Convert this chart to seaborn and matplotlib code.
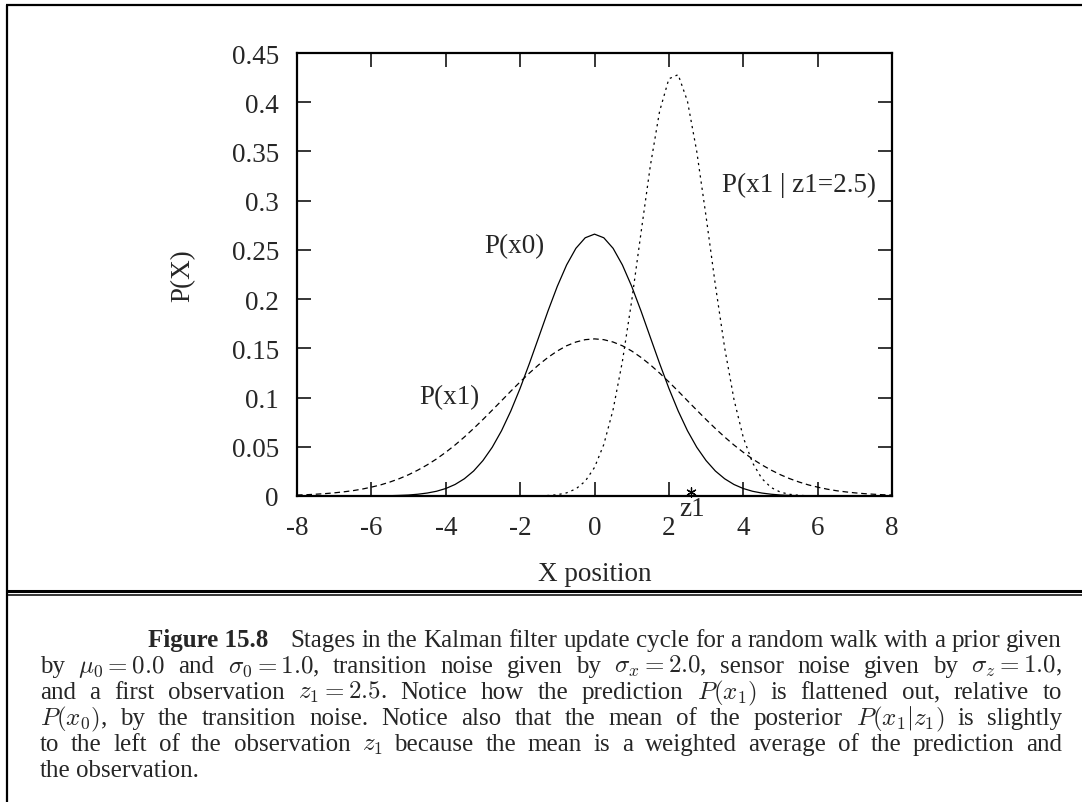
import re
import matplotlib
matplotlib.use("Agg")
import matplotlib.pyplot as plt
import matplotlib.transforms as mtransforms
from matplotlib.lines import Line2D
import pandas as pd
import seaborn as sns

x_pos = [-8.0, -7.75, -7.5, -7.25, -7.0, -6.75, -6.5, -6.25, -6.0, -5.75, -5.5, -5.25, -5.0,
         -4.75, -4.5, -4.25, -4.0, -3.75, -3.5, -3.25, -3.0, -2.75, -2.5, -2.25, -2.0,
         -1.75, -1.5, -1.25, -1.0, -0.75, -0.5, -0.25, 0.0, 0.25, 0.5, 0.75, 1.0,
         1.25, 1.5, 1.75, 2.0, 2.25, 2.5, 2.75, 3.0, 3.25, 3.5, 3.75, 4.0,
         4.25, 4.5, 4.75, 5.0, 5.25, 5.5, 5.75, 6.0, 6.25, 6.5, 6.75, 7.0,
         7.25, 7.5, 7.75, 8.0]

p_x0 = [0, 0, 0, 0, 0, 0, 0, 0, 0.0001, 0.0002, 0.0003, 0.0006, 0.0010,
        0.0018, 0.0030, 0.0048, 0.0076, 0.0117, 0.0175, 0.0254, 0.0360, 0.0495, 0.0663, 0.0864, 0.1094,
        0.1347, 0.1613, 0.1880, 0.2130, 0.2347, 0.2516, 0.2623, 0.2660, 0.2623, 0.2516, 0.2347, 0.2130,
        0.1880, 0.1613, 0.1347, 0.1094, 0.0864, 0.0663, 0.0495, 0.0360, 0.0254, 0.0175, 0.0117, 0.0076,
        0.0048, 0.0030, 0.0018, 0.0010, 0.0006, 0.0003, 0.0002, 0.0001, 0, 0, 0, 0,
        0, 0, 0, 0]

p_x1 = [0.0010, 0.0013, 0.0018, 0.0024, 0.0032, 0.0042, 0.0054, 0.0070, 0.0090, 0.0113, 0.0142, 0.0176, 0.0216,
        0.0263, 0.0316, 0.0376, 0.0444, 0.0518, 0.0599, 0.0686, 0.0777, 0.0872, 0.0968, 0.1065, 0.1159,
        0.1249, 0.1333, 0.1408, 0.1473, 0.1526, 0.1564, 0.1588, 0.1596, 0.1588, 0.1564, 0.1526, 0.1473,
        0.1408, 0.1333, 0.1249, 0.1159, 0.1065, 0.0968, 0.0872, 0.0777, 0.0686, 0.0599, 0.0518, 0.0444,
        0.0376, 0.0316, 0.0263, 0.0216, 0.0176, 0.0142, 0.0113, 0.0090, 0.0070, 0.0054, 0.0042, 0.0032,
        0.0024, 0.0018, 0.0013, 0.0010]

p_x1_z1 = [0, 0, 0, 0, 0, 0, 0, 0, 0, 0, 0, 0, 0,
           0, 0, 0, 0, 0, 0, 0, 0, 0, 0, 0, 0,
           0.0001, 0.0002, 0.0005, 0.0013, 0.0032, 0.0072, 0.0150, 0.0290, 0.0523, 0.0877, 0.1367, 0.1982,
           0.2672, 0.3350, 0.3907, 0.4238, 0.4280, 0.4010, 0.3499, 0.2840, 0.2143, 0.1505, 0.0982, 0.0596,
           0.0337, 0.0177, 0.0086, 0.0039, 0.0017, 0.0007, 0.0002, 0.0001, 0, 0, 0, 0,
           0, 0, 0, 0]

z1_obs = 2.5

x_ticks = [-8, -6, -4, -2, 0, 2, 4, 6, 8]
x_tick_labels = ["-8", "-6", "-4", "-2", "0", "2", "4", "6", "8"]
y_ticks = [0, 0.05, 0.1, 0.15, 0.2, 0.25, 0.3, 0.35, 0.4, 0.45]
y_tick_labels = ["0", "0.05", "0.1", "0.15", "0.2", "0.25", "0.3", "0.35", "0.4", "0.45"]

caption_head = "Figure 15.8"
caption_lines = [
    "Stages in the Kalman filter update cycle for a random walk with a prior given",
    r"by $\mu_0 = 0.0$ and $\sigma_0 = 1.0$, transition noise given by $\sigma_x = 2.0$, sensor noise given by $\sigma_z = 1.0$,",
    r"and a first observation $z_1 = 2.5$. Notice how the prediction $P(x_1)$ is flattened out, relative to",
    r"$P(x_0)$, by the transition noise. Notice also that the mean of the posterior $P(x_1|z_1)$ is slightly",
    r"to the left of the observation $z_1$ because the mean is a weighted average of the prediction and",
    "the observation.",
]

sns.set_theme(style="ticks")
plt.rcParams["font.family"] = ["Liberation Serif", "DejaVu Serif"]
plt.rcParams["mathtext.fontset"] = "cm"

W, H = 1082, 803
fs = 19.5
fig = plt.figure(figsize=(W / 100, H / 100), dpi=100)
ax = fig.add_axes([297 / W, 1 - 497 / H, 595 / W, 443 / H])

df = pd.DataFrame({"x": x_pos, "p0": p_x0, "p1": p_x1, "post": p_x1_z1})
sns.lineplot(data=df, x="x", y="p0", ax=ax, color="black", linewidth=0.9)
sns.lineplot(data=df, x="x", y="p1", ax=ax, color="black", linewidth=0.9,
             linestyle=(0, (4.5, 3)))
sns.lineplot(data=df, x="x", y="post", ax=ax, color="black", linewidth=0.9,
             linestyle=(0, (1.8, 3.2)))

# observation marker
off = mtransforms.offset_copy(ax.transData, fig=fig, x=4, y=4, units="dots")
sns.scatterplot(x=[z1_obs], y=[0], ax=ax, marker=(6, 2, 0), s=45, color="black",
                linewidth=0.9, transform=off, clip_on=False, zorder=5)
ax.annotate("z1", xy=(z1_obs, 0), xytext=(5, -13), textcoords="offset pixels",
            ha="center", va="center", fontsize=fs, annotation_clip=False)

ax.text(-2.15, 0.254, "P(x0)", ha="center", va="center", fontsize=fs)
ax.text(-3.9, 0.1006, "P(x1)", ha="center", va="center", fontsize=fs)
ax.text(5.5, 0.317, "P(x1 | z1=2.5)", ha="center", va="center", fontsize=fs)

ax.set_xlim(-8, 8)
ax.set_ylim(0, 0.45)
ax.set_xticks(x_ticks)
ax.set_xticklabels(x_tick_labels)
ax.set_yticks(y_ticks)
ax.set_yticklabels(y_tick_labels)
ax.tick_params(direction="in", length=10, width=1.1, top=True, right=True,
               labelsize=fs, color="black")
ax.tick_params(axis="x", pad=14)
ax.tick_params(axis="y", pad=13)
for sp in ax.spines.values():
    sp.set_linewidth(1.6)
    sp.set_color("black")
ax.set_xlabel("X position", fontsize=fs)
ax.set_ylabel("P(X)", fontsize=fs)
ax.xaxis.set_label_coords(0.5, -0.147)
ax.yaxis.set_label_coords(-0.171, 0.5)

# frame of the figure box
def hline(y, lw, x0=7):
    fig.add_artist(Line2D([x0 / W, 1], [1 - y / H, 1 - y / H], color="black", lw=lw,
                          solid_capstyle="butt"))

hline(5.5, 1.6, x0=6)
fig.add_artist(Line2D([7 / W, 7 / W], [0, 1 - 5.5 / H], color="black", lw=1.6,
                      solid_capstyle="butt"))
hline(591.5, 2.2)
hline(595.5, 1.1)

# caption, justified line by line
cap_fs = 18
renderer = fig.canvas.get_renderer()
left, right = 40, 1062
baselines = [647, 673, 699, 725, 751, 777]


def place_line(text, y, x0, x1, justify=True):
    tokens = re.findall(r"[^\s$]*\$[^$]*\$[^\s$]*|\S+", text)
    arts = [fig.text(0, 1 - y / H, t, fontsize=cap_fs, va="baseline", ha="left") for t in tokens]
    widths = [a.get_window_extent(renderer).width for a in arts]
    if justify and len(tokens) > 1:
        gap = (x1 - x0 - sum(widths)) / (len(tokens) - 1)
    else:
        gap = 5.5
    x = x0
    for a, w in zip(arts, widths):
        a.set_x(x / W)
        x += w + gap


head = fig.text(148 / W, 1 - baselines[0] / H, caption_head, fontsize=cap_fs,
                fontweight="bold", va="baseline", ha="left")
place_line(caption_lines[0], baselines[0], 290, right)
for line, y in zip(caption_lines[1:-1], baselines[1:-1]):
    place_line(line, y, left, right)
place_line(caption_lines[-1], baselines[-1], left, right, justify=False)

fig.savefig("out.png", dpi=100)
